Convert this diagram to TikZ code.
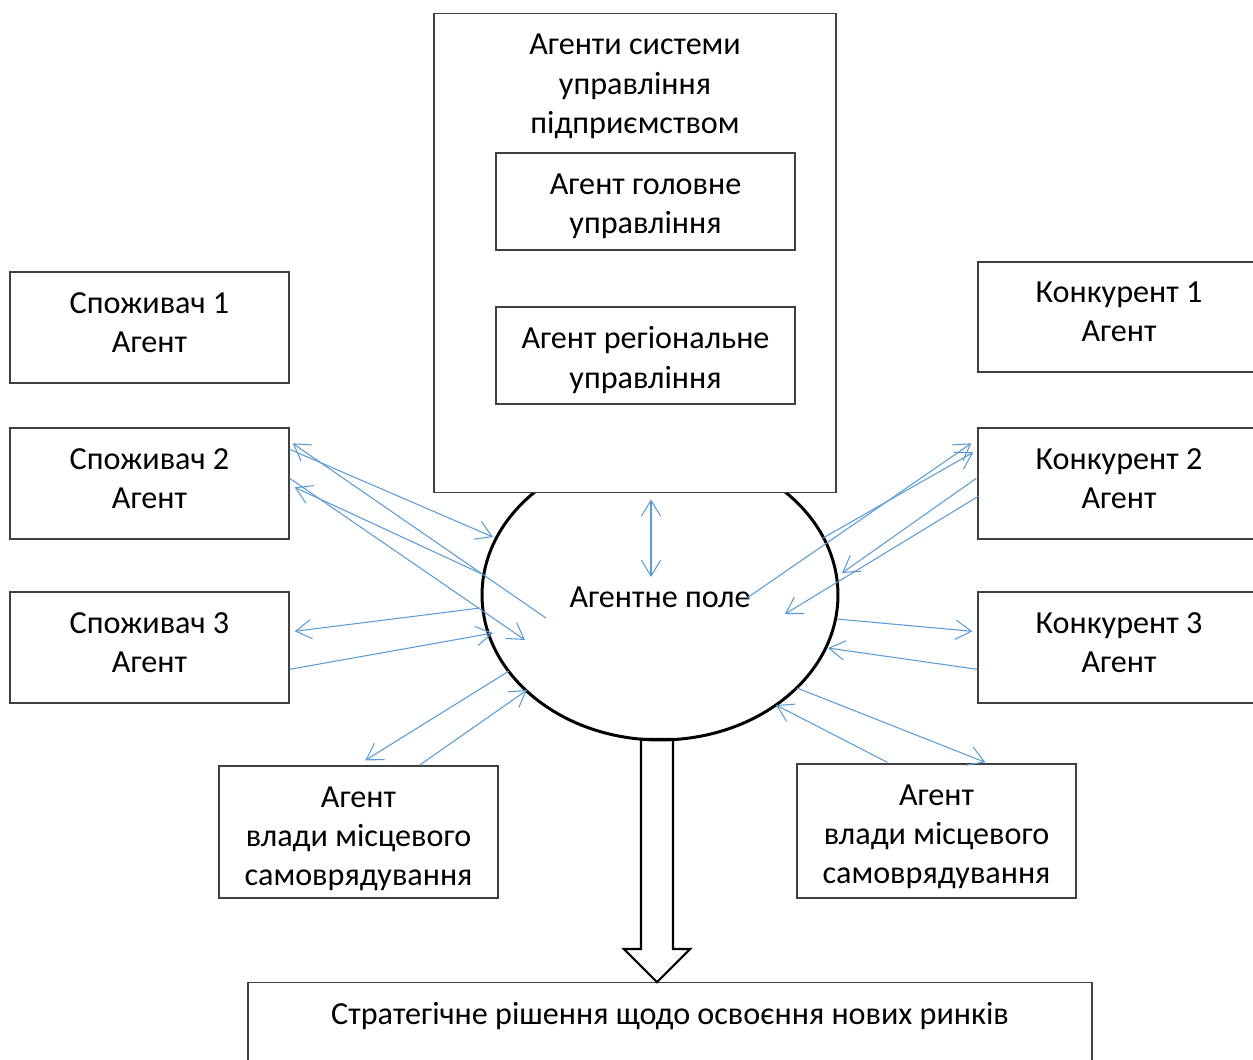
\documentclass[tikz,border=0pt]{standalone}
\usepackage{fontspec}
\setmainfont{Carlito}
\usepackage{tikz}
\usetikzlibrary{calc,positioning,arrows.meta,shapes.geometric}
\definecolor{linkblue}{RGB}{91,155,213}
\definecolor{boxgray}{RGB}{64,64,64}
\tikzset{
  >={Straight Barb[length=9pt,width=11pt]},
  agent/.style={
    rectangle,
    draw=boxgray, line width=0.8pt,
    fill=white,
    align=center,
    minimum width=5.58cm,
    minimum height=2.22cm,
    inner sep=0pt},
  inner/.style={agent, minimum width=5.98cm, minimum height=1.94cm},
  agenttext/.style={anchor=center, align=center},
  field/.style={ellipse, draw=black, line width=1.7pt,
    minimum width=7.12cm, minimum height=5.8cm, inner sep=0pt},
  link/.style={draw=linkblue, line width=0.6pt, ->},
  blockarrow/.style={draw=black, line width=1.2pt, fill=white, line join=miter},
}

\begin{document}
\begin{tikzpicture}[x=0.02cm, y=-0.02cm, font=\fontsize{18.3pt}{22.3pt}\selectfont]

		\useasboundingbox (0,0) rectangle (1253,1059);

		% decision and the big arrow to it
		\node[agent, minimum width=16.88cm, minimum height=4cm, anchor=north,
			label={[agenttext, yshift=-0.68cm]north:Стратегічне рішення щодо освоєння нових ринків}] (decision) at (670,982) {};
		\coordinate (tip) at ($(decision.north)+(-13,0)$);
		\draw[blockarrow] (tip) -- ++(-33,-33) -- ++(17,0) -- ++(0,-210) -- ++(32,0) -- ++(0,210) -- ++(17,0) -- cycle;

		% field and management system
		\node[field, label={[agenttext, yshift=-0.04cm]center:Агентне поле}] (field) at (660,595) {};
		\node[agent, minimum width=8.04cm, minimum height=9.58cm, anchor=north,
			label={[agenttext, yshift=-1.47cm]north:Агенти системи\\управління\\підприємством}] (mas) at (635,13) {};
		\node[inner, label={[agenttext, yshift=-0.1cm]center:Агент головне\\управління}] (head) at (645.5,201.5) {};
		\node[inner, label={[agenttext, yshift=-0.09cm]center:Агент регіональне\\управління}] (region) at (645.5,355.5) {};

		% consumers and competitors
		\node[agent, label={[agenttext, yshift=0.1cm]center:Споживач 1\\Агент}] (cons1) at (149.5,327.5) {};
		\node[agent, label={[agenttext, yshift=0.1cm]center:Споживач 2\\Агент}] (cons2) at (149.5,483.5) {};
		\node[agent, label={[agenttext, yshift=0.1cm]center:Споживач 3\\Агент}] (cons3) at (149.5,647.5) {};
		\node[agent, minimum width=5.64cm, minimum height=2.2cm, label={[agenttext, yshift=0.1cm]center:Конкурент 1\\Агент}] (comp1) at (1119,317) {};
		\node[agent, minimum width=5.64cm, label={[agenttext, yshift=0.1cm]center:Конкурент 2\\Агент}] (comp2) at (1119,483.5) {};
		\node[agent, minimum width=5.64cm, label={[agenttext, yshift=0.1cm]center:Конкурент 3\\Агент}] (comp3) at (1119,647.5) {};

		% local government
		\node[agent, minimum height=2.64cm, label={[agenttext, yshift=-0.13cm]center:Агент\\влади місцевого\\самоврядування}] (gov1) at (358.5,832) {};
		\node[agent, minimum height=2.68cm, label={[agenttext, yshift=-0.12cm]center:Агент\\влади місцевого\\самоврядування}] (gov2) at (936.5,831) {};

		% links
		\draw[link, <->] ($(mas.south)+(16,6)$) -- ($(field.center)+(-9,-18)$);

		\draw[link] ($(cons2.north east)+(0,22)$) -- ($(field.center)+(-167,-58)$);
		\draw[link] ($(field.center)+(-114,23)$) -- ($(cons2.north east)+(3,16)$);
		\draw[link] ($(cons2.north east)+(0,51)$) -- ($(field.center)+(-135,45)$);
		\draw[link] ($(field.center)+(-178,-21)$) -- ($(cons2.north east)+(5,60)$);
		\draw[link] ($(field.center)+(-180,13)$) -- ($(cons3.north east)+(5,40)$);
		\draw[link] ($(cons3.north east)+(0,78)$) -- ($(field.center)+(-167,38)$);
		\draw[link] ($(field.center)+(-151,76)$) -- ($(gov1.north west)+(147,-5)$);
		\draw[link] ($(gov1.north west)+(201,0)$) -- ($(field.center)+(-133,95)$);

		\draw[link] ($(field.center)+(87,3)$) -- ($(comp2.north west)+(-6,16)$);
		\draw[link] ($(field.center)+(163,-57)$) -- ($(comp2.north west)+(-4,25)$);
		\draw[link] ($(comp2.north west)+(-1,51)$) -- ($(field.center)+(182,-22)$);
		\draw[link] ($(comp2.north west)+(1,69)$) -- ($(field.center)+(125,19)$);
		\draw[link] ($(field.center)+(177,24)$) -- ($(comp3.north west)+(-5,40)$);
		\draw[link] ($(comp3.north west)+(0,78)$) -- ($(field.center)+(168,53)$);
		\draw[link] ($(field.center)+(137,93)$) -- ($(gov2.north west)+(189,-1)$);
		\draw[link] ($(gov2.north west)+(91,-1)$) -- ($(field.center)+(116,110)$);

	\end{tikzpicture}
\end{document}
